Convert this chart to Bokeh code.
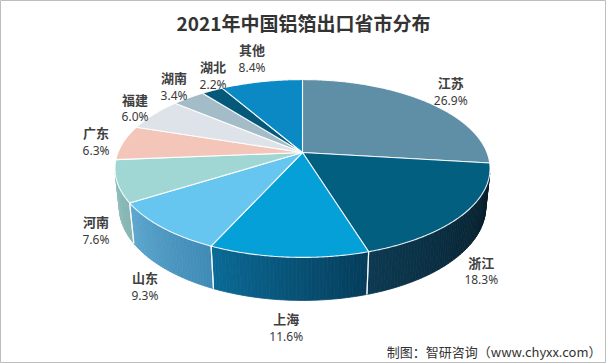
import numpy as np
from bokeh.plotting import figure
from bokeh.models import Range1d, ColumnDataSource
from bokeh.embed import file_html
from bokeh.resources import INLINE
from bokeh.core.properties import value

# ---------------- data ----------------
provinces = ["江苏", "浙江", "上海", "山东", "河南", "广东", "福建", "湖南", "湖北", "其他"]
shares = [26.9, 18.3, 11.6, 9.3, 7.6, 6.3, 6.0, 3.4, 2.2, 8.4]
title_text = "2021年中国铝箔出口省市分布"
source_text = "制图：智研咨询（www.chyxx.com）"

# ---------------- style ----------------
top_colors = ["#5f8fa7", "#035f80", "#05a0d8", "#66c6f0", "#a0d6d3",
              "#f4c6ba", "#dde3e9", "#a3bcc7", "#04587a", "#0b89c4"]
side_start = ["#4a7388", "#061b27", "#053c5a", "#3f8bb6", "#84b3b1",
              "#c9a399", "#b5bac0", "#8499a3", "#034560", "#086d9c"]
side_end = ["#4a7388", "#0d3a52", "#0b6b97", "#5ea7cf", "#90bfbc",
            "#c9a399", "#b5bac0", "#8499a3", "#034560", "#086d9c"]

W, H = 606, 363
CX, CY = 302.0, 152.0          # projected pie centre (pixels)
ALPHA = np.radians(27.8)       # view elevation
C, S = np.cos(ALPHA), np.sin(ALPHA)
D = 4.92                       # camera distance (pie radius = 1)
F = 907.7                      # focal scale (pixels)
HGT = 0.2365                   # pie thickness


def proj(phi, r=1.0, Y=0.0):
    phi = np.asarray(phi, dtype=float)
    X = r * np.sin(phi)
    Z = -r * np.cos(phi)
    w = D - Y * S - Z * C
    return CX + F * X / w, CY + F * (Z * S - Y * C) / w


def hex2rgb(h):
    h = h.lstrip("#")
    return np.array([int(h[i:i + 2], 16) for i in (0, 2, 4)], dtype=float)


def rgb2hex(c):
    c = np.clip(np.round(c), 0, 255).astype(int)
    return "#%02x%02x%02x" % tuple(c)


total = float(sum(shares))
bounds = np.concatenate([[0.0], np.cumsum(shares)]) / total * 2 * np.pi

p = figure(width=W, height=H, output_backend="svg", toolbar_location=None,
           x_range=Range1d(0, W), y_range=Range1d(H, 0),
           min_border=0, x_axis_type=None, y_axis_type=None)
p.grid.visible = False
p.outline_line_color = "#bdbdbd"
p.outline_line_width = 1
p.background_fill_color = "white"
p.border_fill_color = "white"

# ---- outer wall (visible front part) ----
vis_lo = np.arccos(-1.0 / (D * C))
vis_hi = 2 * np.pi - vis_lo
wall_xs, wall_ys, wall_cols = [], [], []
edge_xs, edge_ys = [], []
for i in range(len(shares)):
    a, b = bounds[i], bounds[i + 1]
    lo, hi = max(a, vis_lo), min(b, vis_hi)
    if lo >= hi:
        continue
    n = max(2, int(np.ceil(np.degrees(hi - lo) / 1.0)))
    steps = np.linspace(lo, hi, n + 1)
    ca, cb = hex2rgb(side_start[i]), hex2rgb(side_end[i])
    for k in range(n):
        p0, p1 = steps[k], steps[k + 1]
        tx0, ty0 = proj(p0)
        tx1, ty1 = proj(p1)
        bx0, by0 = proj(p0, 1.0, -HGT)
        bx1, by1 = proj(p1, 1.0, -HGT)
        wall_xs.append([float(tx0), float(tx1), float(bx1), float(bx0)])
        wall_ys.append([float(ty0), float(ty1), float(by1), float(by0)])
        t = ((p0 + p1) / 2 - lo) / (hi - lo)
        wall_cols.append(rgb2hex(ca + (cb - ca) * t))
    for e in (a, b):
        if vis_lo < e < vis_hi:
            tx, ty = proj(e)
            bx, by = proj(e, 1.0, -HGT)
            edge_xs.append([float(tx), float(bx)])
            edge_ys.append([float(ty), float(by)])

p.patches(xs="xs", ys="ys", fill_color="c", line_color="c", line_width=0.8,
          source=ColumnDataSource(dict(xs=wall_xs, ys=wall_ys, c=wall_cols)))
p.multi_line(xs=edge_xs, ys=edge_ys, line_color="white", line_width=1.2, line_alpha=0.85)

# ---- top surface ----
top_xs, top_ys = [], []
for i in range(len(shares)):
    a, b = bounds[i], bounds[i + 1]
    n = max(4, int(np.ceil(np.degrees(b - a) / 0.5)))
    ph = np.linspace(a, b, n + 1)
    ax_, ay_ = proj(ph)
    top_xs.append([CX] + list(map(float, ax_)))
    top_ys.append([CY] + list(map(float, ay_)))
p.patches(xs="xs", ys="ys", fill_color="c", line_color="white", line_width=1.1,
          line_alpha=0.9, line_join="round",
          source=ColumnDataSource(dict(xs=top_xs, ys=top_ys, c=top_colors)))

# ---- labels (outside the rim, with simple overlap avoidance) ----
lx, ly, pct = [], [], []
BOX_W, BOX_H = 36.0, 34.0
for i in range(len(shares)):
    m = (bounds[i] + bounds[i + 1]) / 2
    Z = -np.cos(m)
    Y = -HGT if Z > 0 else 0.0
    axp, ayp = proj(m, 1.0, Y)
    dx, dy = axp - CX, ayp - CY
    L = np.hypot(dx, dy)
    x = axp + 27 * dx / L
    y = ayp + 27 * dy / L
    if lx:
        px, py = lx[-1], ly[-1]
        if abs(x - px) < BOX_W and abs(y - py) < BOX_H:
            x = px + np.sign(x - px if x != px else 1.0) * (BOX_W + 3)
    lx.append(float(x))
    ly.append(float(y))
    pct.append(f"{shares[i]:.1f}%")

ly_name = [v - 8.5 for v in ly]
ly_pct = [v + 9 for v in ly]
p.text(x=lx, y=ly_name, text=provinces, text_align="center", text_baseline="middle",
       text_font=value("Noto Sans CJK SC"), text_font_size="13px",
       text_font_style="bold", text_color="#404040")
p.text(x=lx, y=ly_pct, text=pct, text_align="center", text_baseline="middle",
       text_font=value("Noto Sans"), text_font_size="12px",
       text_color="#3a3a3a")

# ---- title and source ----
p.text(x=[303], y=[22], text=[title_text], text_align="center", text_baseline="middle",
       text_font=value("Noto Sans CJK SC"), text_font_size="19px",
       text_font_style="bold", text_color="#333333")
p.text(x=[601], y=[351], text=[source_text], text_align="right", text_baseline="middle",
       text_font=value("Noto Sans CJK SC"), text_font_size="13px",
       text_color="#333333")

open("out.html", "w").write(file_html(p, INLINE))
